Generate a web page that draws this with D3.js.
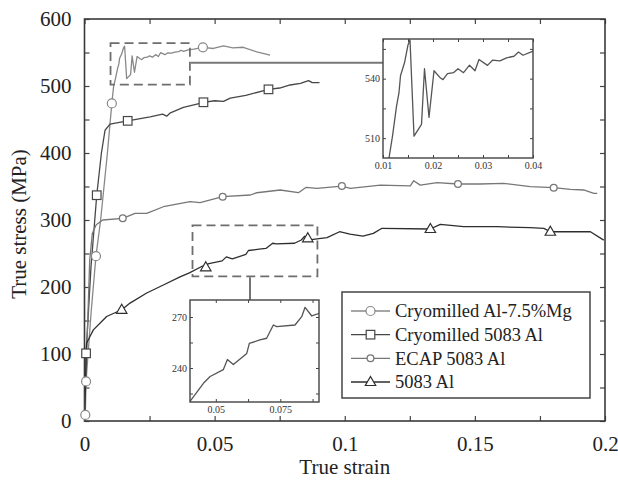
<!DOCTYPE html>
<html>
<head>
<meta charset="utf-8">
<script src="https://cdn.jsdelivr.net/npm/d3@7"></script>
<style>
  html, body { margin: 0; padding: 0; background: #fff; }
  svg { display: block; }
</style>
</head>
<body>
<svg id="chart" width="618" height="485"></svg>
<script>
// ---------------- DATA ----------------
const seriesNames = ["Cryomilled Al-7.5%Mg", "Cryomilled 5083 Al", "ECAP 5083 Al", "5083 Al"];

// Cryomilled Al-7.5%Mg  [strain, stress MPa]
const mgCurve = [
  [0,0],[0.0003,9],[0.0006,59],[0.0025,160],[0.0044,246],[0.0062,300],[0.0088,400],[0.0105,474],
  [0.0112,500],[0.0119,511],[0.0127,526],[0.0132,533],[0.0135,541.5],[0.0143,548],[0.015,557],
  [0.0154,559.6],[0.0162,511],[0.0177,517],[0.0183,545],[0.0192,520.5],[0.0202,544],[0.0215,540.3],
  [0.022,539.5],[0.0229,542.5],[0.0241,543],[0.025,545],[0.0261,543],[0.0273,546.8],[0.0284,544],
  [0.0292,549.7],[0.0309,546.7],[0.0319,549.3],[0.0334,549],[0.0347,550.5],[0.0362,551.3],
  [0.0371,553.4],[0.038,551.8],[0.0399,553.8],[0.042,555],[0.0455,557.7],[0.0495,556],
  [0.0534,560],[0.057,557],[0.061,557.8],[0.0662,551],[0.0713,546]
];
const mgMarkers = [[0.0003,9],[0.0006,59],[0.0044,246],[0.0105,474],[0.0455,557.7]];

// Cryomilled 5083 Al
const cryo5083Curve = [
  [0,0],[0.0006,101],[0.0025,230],[0.0047,337],[0.0065,400],[0.0079,434],[0.0098,443],
  [0.0166,448],[0.0252,454],[0.03,458],[0.0316,455],[0.033,460],[0.038,468],[0.0444,474],
  [0.0457,475.7],[0.05,478],[0.0534,477],[0.056,482],[0.062,486],[0.0707,495],[0.075,497],
  [0.079,501.5],[0.083,504],[0.0861,508],[0.0875,505],[0.0903,505]
];
const cryo5083Markers = [[0.0006,101],[0.0047,337],[0.0166,448],[0.0457,475.7],[0.0707,495]];

// ECAP 5083 Al
const ecapCurve = [
  [0,0],[0.001,120],[0.002,240],[0.003,280],[0.0045,293],[0.007,300],[0.0147,302.5],
  [0.0194,310],[0.0239,310],[0.0303,319.8],[0.0406,327.3],[0.0444,326],[0.0531,334.8],
  [0.0637,337.3],[0.0662,340.7],[0.0752,344.8],[0.0822,340.7],[0.0852,348.8],[0.0893,347.3],
  [0.0989,350.7],[0.1021,347.3],[0.1137,352],[0.1252,351],[0.1265,358.7],[0.129,352],
  [0.1355,355.7],[0.1435,353.7],[0.152,353.7],[0.161,354.7],[0.1713,349.7],[0.1803,348.2],
  [0.1867,345.8],[0.1918,344.8],[0.1957,339.8],[0.197,339.8]
];
const ecapMarkers = [[0.0147,302.5],[0.0531,334.8],[0.0989,350.7],[0.1435,353.7],[0.1803,348.2]];

// 5083 Al
const al5083Curve = [
  [0,0],[0.0008,116],[0.0021,126],[0.0034,136],[0.0085,156],[0.0143,166],[0.0175,176],
  [0.0239,191],[0.0303,203],[0.0367,215],[0.0403,221],[0.0452,231],[0.0478,235],[0.0529,239],
  [0.0545,245],[0.0568,242],[0.062,248.6],[0.063,254.5],[0.0671,256.5],[0.0697,257.5],
  [0.0723,265.3],[0.0736,264.3],[0.0807,265.3],[0.0833,270.2],[0.0846,275.7],[0.0872,270.6],
  [0.0901,272.2],[0.0932,273.6],[0.098,282.5],[0.102,279],[0.107,276],[0.111,280],[0.1143,287.6],
  [0.1329,286.6],[0.1367,293.6],[0.1457,290],[0.1585,290],[0.1713,288.5],[0.1765,287.6],
  [0.179,282.5],[0.1944,282.5],[0.1995,270]
];
const al5083Markers = [[0.0143,166],[0.0466,229.4],[0.0858,272.7],[0.1329,286.6],[0.179,282.5]];

// axis tick values
const xTickValues = [0,0.025,0.05,0.075,0.1,0.125,0.15,0.175,0.2];
const xTickLabels = ["0","","0.05","","0.1","","0.15","","0.2"];
const yTickValues = [0,50,100,150,200,250,300,350,400,450,500,550,600];
const yTickLabels = ["0","","100","","200","","300","","400","","500","","600"];

// inset 1 (Cryomilled Al-7.5%Mg serrations)
const inset1XDomain = [0.01, 0.04];
const inset1YDomain = [500, 560];
const inset1XTicks = [0.01,0.015,0.02,0.025,0.03,0.035,0.04];
const inset1XLabels = ["0.01","","0.02","","0.03","","0.04"];
const inset1YTicks = [510,525,540,555];
const inset1YLabels = ["510","","540",""];
const zoomBox1 = {x:[0.01,0.0405], y:[502,564]};

// inset 2 (5083 Al)
const inset2XDomain = [0.04, 0.09];
const inset2YDomain = [220, 280];
const inset2XTicks = [0.05,0.0625,0.075,0.0875];
const inset2XLabels = ["0.05","","0.075",""];
const inset2YTicks = [225,240,255,270];
const inset2YLabels = ["","240","","270"];
const zoomBox2 = {x:[0.0415,0.0895], y:[216,292]};

// ---------------- DRAWING ----------------
const SERIF = "\"Liberation Serif\", \"Times New Roman\", serif";
const svg = d3.select("#chart");
const plot = {left:84.5, right:605, top:19, bottom:421};
const x = d3.scaleLinear().domain([0,0.2]).range([plot.left, plot.right]);
const y = d3.scaleLinear().domain([0,600]).range([plot.bottom, plot.top]);

const styles = [
  {curve: mgCurve, markers: mgMarkers, color:"#888", sym:"circle"},
  {curve: cryo5083Curve, markers: cryo5083Markers, color:"#474747", sym:"square"},
  {curve: ecapCurve, markers: ecapMarkers, color:"#777", sym:"small"},
  {curve: al5083Curve, markers: al5083Markers, color:"#2e2e2e", sym:"triangle"}
];

svg.append("defs").append("clipPath").attr("id","mainClip")
  .append("rect").attr("x",plot.left).attr("y",plot.top)
  .attr("width",plot.right-plot.left).attr("height",plot.bottom-plot.top);

function drawMarker(g, px, py, sym, color) {
  if (sym === "circle") {
    g.append("circle").attr("cx",px).attr("cy",py).attr("r",4.5)
      .attr("fill","#fff").attr("stroke",color).attr("stroke-width",1.2);
  } else if (sym === "square") {
    g.append("rect").attr("x",px-4.3).attr("y",py-4.3).attr("width",8.6).attr("height",8.6)
      .attr("fill","#fff").attr("stroke",color).attr("stroke-width",1.2);
  } else if (sym === "small") {
    g.append("path").attr("d", d3.symbol().type(d3.symbolCircle).size(36)())
      .attr("transform",`translate(${px},${py})`)
      .attr("fill","#fff").attr("stroke",color).attr("stroke-width",1.3);
  } else {
    g.append("path").attr("d", `M0,-5.5L5.2,3.5L-5.2,3.5Z`)
      .attr("transform",`translate(${px},${py})`)
      .attr("fill","#fff").attr("stroke",color).attr("stroke-width",1.2);
  }
}

// main axes
const fmt = (labels, vals) => (d => labels[vals.indexOf(d)] || "");
const styleMain = g => {
  g.attr("font-family", null).attr("font-size", null);
  g.select(".domain").remove();
  g.selectAll("text").style("font-size","21px").style("font-family",SERIF).attr("fill","#222");
  g.selectAll("line").attr("stroke","#444").attr("stroke-width",1.2);
};
svg.append("g").attr("transform",`translate(0,${plot.bottom})`)
  .call(d3.axisBottom(x).tickValues(xTickValues).tickSize(-5).tickPadding(15).tickFormat(fmt(xTickLabels,xTickValues)))
  .call(styleMain);
svg.append("g").attr("transform",`translate(0,${plot.top})`)
  .call(d3.axisTop(x).tickValues(xTickValues).tickSize(-5).tickFormat(""))
  .call(styleMain);
svg.append("g").attr("transform",`translate(${plot.left},0)`)
  .call(d3.axisLeft(y).tickValues(yTickValues).tickSize(-5).tickPadding(13).tickFormat(fmt(yTickLabels,yTickValues)))
  .call(styleMain);
svg.append("g").attr("transform",`translate(${plot.right},0)`)
  .call(d3.axisRight(y).tickValues(yTickValues).tickSize(-5).tickFormat(""))
  .call(styleMain);

svg.append("rect").attr("x",plot.left).attr("y",plot.top)
  .attr("width",plot.right-plot.left).attr("height",plot.bottom-plot.top)
  .attr("fill","none").attr("stroke","#3a3a3a").attr("stroke-width",1.6);

// axis titles
svg.append("text").attr("x",(plot.left+plot.right)/2).attr("y",474)
  .attr("text-anchor","middle").style("font-family",SERIF).style("font-size","21px").attr("fill","#222").text("True strain");
svg.append("text").attr("transform",`translate(26,${(plot.top+plot.bottom)/2 + 4}) rotate(-90)`)
  .attr("text-anchor","middle").style("font-family",SERIF).style("font-size","21px").attr("fill","#222").text("True stress (MPa)");

// curves
const line = d3.line().x(d => x(d[0])).y(d => y(d[1]));
const curvesG = svg.append("g").attr("clip-path","url(#mainClip)");
styles.forEach(s => {
  curvesG.append("path").datum(s.curve).attr("d",line)
    .attr("fill","none").attr("stroke",s.color).attr("stroke-width",1.3).attr("stroke-linejoin","round");
});
styles.forEach(s => {
  const g = svg.append("g");
  s.markers.forEach(m => drawMarker(g, x(m[0]), y(m[1]), s.sym, s.color));
});

// dashed zoom boxes
function dashedBox(b) {
  svg.append("rect").attr("x",x(b.x[0])).attr("y",y(b.y[1]))
    .attr("width",x(b.x[1])-x(b.x[0])).attr("height",y(b.y[0])-y(b.y[1]))
    .attr("fill","none").attr("stroke","#6e6e6e").attr("stroke-width",1.8).attr("stroke-dasharray","9,5");
}
dashedBox(zoomBox1);
dashedBox(zoomBox2);

// inset builder
function inset(cfg) {
  const ix = d3.scaleLinear().domain(cfg.xd).range([cfg.x0, cfg.x1]);
  const iy = d3.scaleLinear().domain(cfg.yd).range([cfg.y1, cfg.y0]);
  const id = cfg.id;
  svg.append("rect").attr("x",cfg.x0).attr("y",cfg.y0).attr("width",cfg.x1-cfg.x0).attr("height",cfg.y1-cfg.y0)
    .attr("fill","#fff");
  svg.append("defs").append("clipPath").attr("id",id)
    .append("rect").attr("x",cfg.x0).attr("y",cfg.y0).attr("width",cfg.x1-cfg.x0).attr("height",cfg.y1-cfg.y0);
  const il = d3.line().x(d => ix(d[0])).y(d => iy(d[1]));
  svg.append("path").datum(cfg.data).attr("d",il).attr("clip-path",`url(#${id})`)
    .attr("fill","none").attr("stroke","#555").attr("stroke-width",1.3).attr("stroke-linejoin","round");
  const styleAx = g => {
    g.attr("font-family", null).attr("font-size", null);
    g.select(".domain").remove();
    g.selectAll("text").style("font-size","10px").style("font-family",SERIF).attr("fill","#333");
    g.selectAll("line").attr("stroke","#444");
  };
  svg.append("g").attr("transform",`translate(0,${cfg.y1})`)
    .call(d3.axisBottom(ix).tickValues(cfg.xt).tickSize(-3).tickPadding(4).tickFormat(fmt(cfg.xl,cfg.xt))).call(styleAx);
  svg.append("g").attr("transform",`translate(0,${cfg.y0})`)
    .call(d3.axisTop(ix).tickValues(cfg.xt).tickSize(-3).tickFormat("")).call(styleAx);
  svg.append("g").attr("transform",`translate(${cfg.x0},0)`)
    .call(d3.axisLeft(iy).tickValues(cfg.yt).tickSize(-3).tickPadding(3).tickFormat(fmt(cfg.yl,cfg.yt))).call(styleAx);
  svg.append("g").attr("transform",`translate(${cfg.x1},0)`)
    .call(d3.axisRight(iy).tickValues(cfg.yt).tickSize(-3).tickFormat("")).call(styleAx);
  svg.append("rect").attr("x",cfg.x0).attr("y",cfg.y0).attr("width",cfg.x1-cfg.x0).attr("height",cfg.y1-cfg.y0)
    .attr("fill","none").attr("stroke","#444").attr("stroke-width",1.4);
}

// connectors
svg.append("line").attr("x1",x(zoomBox1.x[1])+1).attr("x2",383).attr("y1",62.7).attr("y2",62.7)
  .attr("stroke","#777").attr("stroke-width",2);
svg.append("line").attr("x1",250).attr("x2",250).attr("y1",y(zoomBox2.y[0])+1).attr("y2",300)
  .attr("stroke","#666").attr("stroke-width",1.8);

inset({id:"in1", data: mgCurve, xd: inset1XDomain, yd: inset1YDomain, x0:383, x1:533, y0:39, y1:158,
  xt: inset1XTicks, xl: inset1XLabels, yt: inset1YTicks, yl: inset1YLabels});
inset({id:"in2", data: al5083Curve, xd: inset2XDomain, yd: inset2YDomain, x0:190, x1:319, y0:300, y1:402,
  xt: inset2XTicks, xl: inset2XLabels, yt: inset2YTicks, yl: inset2YLabels});

// legend
const lg = svg.append("g");
lg.append("rect").attr("x",342).attr("y",292).attr("width",248).attr("height",106)
  .attr("fill","#fff").attr("stroke","#444").attr("stroke-width",1.5);
const legendY = d3.scalePoint().domain(seriesNames).range([311, 382]);
seriesNames.forEach((name, i) => {
  const yy = legendY(name);
  const s = styles[i];
  lg.append("line").attr("x1",351).attr("x2",390).attr("y1",yy).attr("y2",yy)
    .attr("stroke",s.color).attr("stroke-width",1.4);
  drawMarker(lg, 370.5, yy, s.sym, s.color);
  lg.append("text").attr("x",395).attr("y",yy).attr("dy","0.35em")
    .style("font-family",SERIF).style("font-size","18.5px").attr("fill","#222").text(name);
});
</script>
</body>
</html>
